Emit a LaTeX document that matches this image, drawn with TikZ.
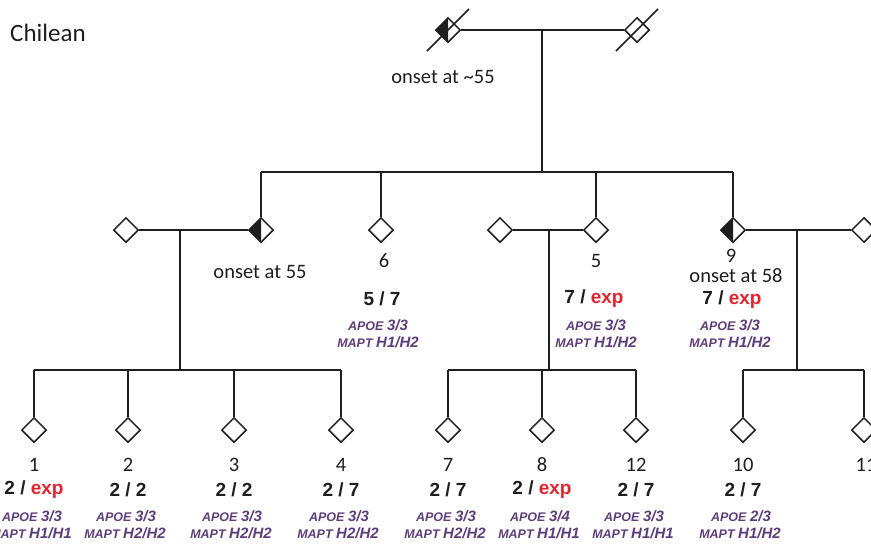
\documentclass[tikz,border=0pt]{standalone}
\usepackage{fontspec}
\setmainfont{Carlito}
\newfontfamily\genofont{Liberation Sans}
\usetikzlibrary{shapes.geometric}
\definecolor{ink}{RGB}{30,30,30}
\definecolor{expred}{RGB}{226,36,48}
\definecolor{genepurple}{RGB}{92,62,122}
% gene label: small-caps style gene name followed by the genotype
\newcommand{\genelbl}[2]{{\fontsize{12.5}{13}\selectfont #1}\hspace{3.5pt}{\fontsize{15}{15}\selectfont #2}}
\tikzset{
  person/.style={diamond, draw=ink, line width=1.5pt, inner sep=0pt, minimum size=25pt, fill=white},
  affected/.style={person, path picture={\fill[ink] (path picture bounding box.north) -- (path picture bounding box.west) -- (path picture bounding box.south) -- cycle;}},
  lbl/.style={text=ink, font=\fontsize{20.5}{21}\selectfont, inner sep=0pt},
  geno/.style={text=ink, font=\genofont\bfseries\fontsize{19}{19}\selectfont, inner sep=0pt},
  gene/.style={text=genepurple, font=\genofont\bfseries\itshape, inner sep=0pt},
  link/.style={draw=ink, line width=1.5pt},
}
\begin{document}
\begin{tikzpicture}[x=1pt, y=-1pt]
\useasboundingbox (0,0) rectangle (871,550);
\clip (0,0) rectangle (871,550);

\node[lbl, anchor=west, font=\fontsize{25}{25}\selectfont] (title) at (10,33) {Chilean};

% founders
\node[affected] (t1) at (448,30) {};
\node[person] (t2) at (637,30) {};
\draw[link, shift={(t1.center)}] (-21,21) -- (21,-21);
\draw[link, shift={(t2.center)}] (-21,21) -- (21,-21);
\node[lbl] (t1on) at (443,77) {onset at \textasciitilde55};
\coordinate (m0) at (542,30);
\coordinate (s0) at (542,172);
\draw[link] (t1.east) -- (t2.west);
\draw[link] (m0) -- (s0);

% second generation
\node[person] (a) at (126,230) {};
\node[affected] (b) at (261,230) {};
\node[person] (c) at (381,230) {};
\node[person] (d) at (500,230) {};
\node[person] (e) at (596,230) {};
\node[affected] (f) at (733,230) {};
\node[person] (g) at (864,230) {};

\draw[link] (b.north |- s0) -- (f.north |- s0);
\foreach \n in {b,c,e,f} \draw[link] (\n.north |- s0) -- (\n.north);
\draw[link] (a.east) -- (b.west);
\draw[link] (d.east) -- (e.west);
\draw[link] (f.east) -- (g.west);

\node[lbl] (bon) at (260,272) {onset at 55};
\node[lbl] (cnum) at (384,261) {6};
\node[geno] (cg) at (382,299) {5 / 7};
\node[gene] (ca) at (378,325) {\genelbl{APOE}{3/3}};
\node[gene] (cm) at (378,342) {\genelbl{MAPT}{H1/H2}};

\node[lbl] (enum) at (596,261) {5};
\node[geno] (eg) at (594,299) {7 / \textcolor{expred}{exp}};
\node[gene] (ea) at (596,325) {\genelbl{APOE}{3/3}};
\node[gene] (em) at (596,342) {\genelbl{MAPT}{H1/H2}};

\node[lbl] (fnum) at (731,256) {9};
\node[lbl] (fon) at (736,276) {onset at 58};
\node[geno] (fg) at (732,300) {7 / \textcolor{expred}{exp}};
\node[gene] (fa) at (730,325) {\genelbl{APOE}{3/3}};
\node[gene] (fm) at (730,342) {\genelbl{MAPT}{H1/H2}};

% sibships of the third generation
\coordinate (m1) at (180,230);
\coordinate (s1) at (180,370);
\coordinate (m2) at (549,230);
\coordinate (s2) at (549,370);
\coordinate (m3) at (797,230);
\coordinate (s3) at (797,370);
\draw[link] (m1) -- (s1);
\draw[link] (m2) -- (s2);
\draw[link] (m3) -- (s3);

\foreach \id/\x/\num/\g/\ap/\mp in {
  k1/34/1/{2 / \textcolor{expred}{exp}}/{3/3}/{H1/H1},
  k2/128/2/{2 / 2}/{3/3}/{H2/H2},
  k3/234/3/{2 / 2}/{3/3}/{H2/H2},
  k4/341/4/{2 / 7}/{3/3}/{H2/H2},
  k7/448/7/{2 / 7}/{3/3}/{H2/H2},
  k8/542/8/{2 / \textcolor{expred}{exp}}/{3/4}/{H1/H1},
  k12/636/12/{2 / 7}/{3/3}/{H1/H1},
  k10/743/10/{2 / 7}/{2/3}/{H1/H2}}{
  \node[person] (\id) at (\x,430) {};
  \node[lbl] (\id n) at (\x,465) {\num};
  \node[geno] (\id g) at (\x,490) {\g};
  \node[gene] (\id a) at (\x-2,516) {\genelbl{APOE}{\ap}};
  \node[gene] (\id m) at (\x-3,533) {\genelbl{MAPT}{\mp}};
}
\node[person] (k11) at (864,430) {};
\node[lbl] (k11n) at (866,465) {11};

\draw[link] (k1.north |- s1) -- (k4.north |- s1);
\draw[link] (k7.north |- s2) -- (k12.north |- s2);
\draw[link] (k10.north |- s3) -- (k11.north |- s3);
\foreach \n in {k1,k2,k3,k4} \draw[link] (\n.north |- s1) -- (\n.north);
\foreach \n in {k7,k8,k12} \draw[link] (\n.north |- s2) -- (\n.north);
\foreach \n in {k10,k11} \draw[link] (\n.north |- s3) -- (\n.north);
\end{tikzpicture}
\end{document}
